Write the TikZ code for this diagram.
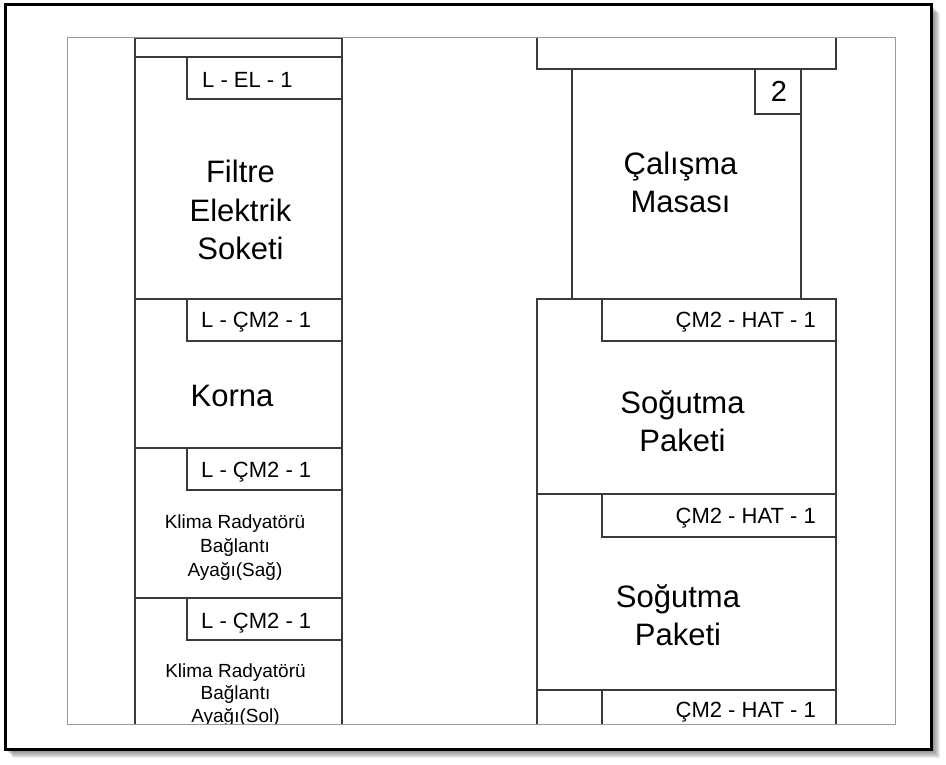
\documentclass[tikz,border=0pt]{standalone}
\usepackage{fontspec}
\setmainfont{Liberation Sans}
\definecolor{linec}{HTML}{3A3A3A}
\definecolor{framegray}{HTML}{9A9A9A}
\begin{document}
\begin{tikzpicture}[x=1pt,y=-1pt,
  cell/.style={draw=linec, line width=1.2pt},
  big/.style={font=\fontsize{31}{38}\selectfont, inner sep=0pt, anchor=base},
  small/.style={font=\fontsize{19}{23}\selectfont, inner sep=0pt, anchor=base},
  lab/.style={font=\fontsize{22}{26}\selectfont, inner sep=0pt},
  num/.style={font=\fontsize{29}{32}\selectfont, inner sep=0pt, anchor=base}]
\useasboundingbox (0,0) rectangle (946,765);
% shadow
\foreach \i in {1,...,8}{
  \fill[black, opacity=0.07] (5+\i,5+\i) rectangle (931.5+\i,749.5+\i);
}
\fill[white] (0,0) rectangle (931.5,749.5);
\fill[white] (0,0) rectangle (946,5);
\fill[white] (0,0) rectangle (5,765);
\draw[black, line width=3pt, fill=white] (5,5) rectangle (931.5,749.5);
\begin{scope}
  \clip (67,38) rectangle (895,724);
  % left column
  \draw[cell] (135,38) rectangle (342,57);
  \draw[cell] (135,57) rectangle (342,299);
  \draw[cell] (187,57) rectangle (342,99);
  \draw[cell] (135,299) rectangle (342,448);
  \draw[cell] (187,299) rectangle (342,341);
  \draw[cell] (135,448) rectangle (342,598);
  \draw[cell] (187,448) rectangle (342,490);
  \draw[cell] (135,598) rectangle (342,748);
  \draw[cell] (187,598) rectangle (342,640);
  % right column
  \draw[cell] (537,30) rectangle (836,69);
  \draw[cell] (572,69) rectangle (801,299);
  \draw[cell] (755,69) rectangle (801,114);
  \draw[cell] (537,299) rectangle (836,494);
  \draw[cell] (602,299) rectangle (836,341);
  \draw[cell] (537,494) rectangle (836,690);
  \draw[cell] (602,494) rectangle (836,537);
  \draw[cell] (537,690) rectangle (836,885);
  \draw[cell] (602,690) rectangle (836,732);
  % labels
  \node[lab, anchor=base west] (l1) at (202,88) {L - EL - 1};
  \node[lab, anchor=base west] (l2) at (201,327) {L - ÇM2 - 1};
  \node[lab, anchor=base west] (l3) at (201,477) {L - ÇM2 - 1};
  \node[lab, anchor=base west] (l4) at (201,628) {L - ÇM2 - 1};
  \node[lab, anchor=base east] (r1) at (816,327) {ÇM2 - HAT - 1};
  \node[lab, anchor=base east] (r2) at (816,523) {ÇM2 - HAT - 1};
  \node[lab, anchor=base east] (r3) at (816,717) {ÇM2 - HAT - 1};
  \node[num] (n2) at (779,101.5) {2};
  % texts
  \node[big] (f1) at (240.5,183) {Filtre};
  \node[big] (f2) at (240.5,221.5) {Elektrik};
  \node[big] (f3) at (240.5,259.5) {Soketi};
  \node[big] (korna) at (232,406) {Korna};
  \node[small] (ka1) at (235,528) {Klima Radyatörü};
  \node[small] (ka2) at (235,552) {Bağlantı};
  \node[small] (ka3) at (235,576) {Ayağı(Sağ)};
  \node[small] (kb1) at (235.5,677) {Klima Radyatörü};
  \node[small] (kb2) at (235.5,699.5) {Bağlantı};
  \node[small] (kb3) at (235.5,722) {Ayağı(Sol)};
  \node[big] (c1) at (680.5,175) {Çalışma};
  \node[big] (c2) at (680.5,212) {Masası};
  \node[big] (sa1) at (682.5,413.5) {Soğutma};
  \node[big] (sa2) at (682.5,451.5) {Paketi};
  \node[big] (sb1) at (678,607.5) {Soğutma};
  \node[big] (sb2) at (678,645) {Paketi};
\end{scope}
\draw[framegray, line width=1pt] (67,38) rectangle (895,724);
\end{tikzpicture}
\end{document}
